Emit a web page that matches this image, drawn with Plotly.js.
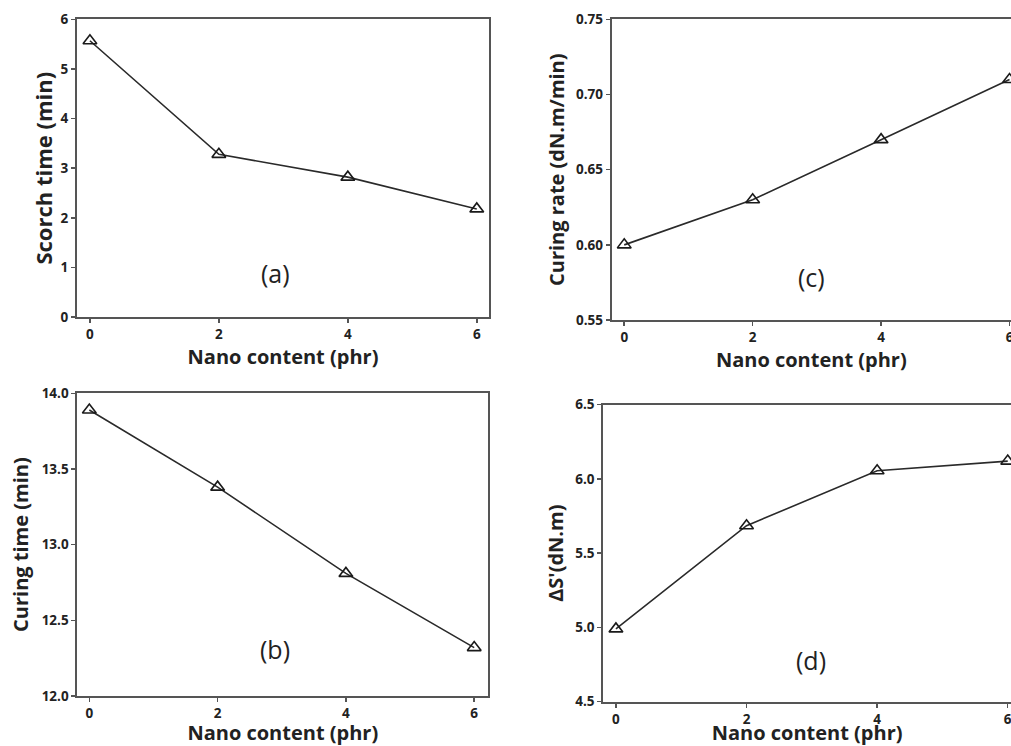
<!DOCTYPE html>
<html>
<head>
<meta charset="utf-8">
<script src="https://cdn.plot.ly/plotly-3.0.1.min.js"></script>
<style>html,body{margin:0;padding:0;background:#fff;}#chart{width:1011px;height:746px;}</style>
</head>
<body>
<div id="chart"></div>
<script>
const nano = [0, 2, 4, 6];
const scorchTime = [5.57, 3.28, 2.82, 2.18];
const curingTime = [13.89, 13.38, 12.81, 12.32];
const curingRate = [0.600, 0.630, 0.670, 0.710];
const deltaS = [4.99, 5.685, 6.055, 6.12];
const xTicks = [0, 2, 4, 6];
const xTitle = 'Nano content (phr)';
const panelLabels = ['(a)', '(b)', '(c)', '(d)'];

const lineStyle = {color: '#2a2a2a', width: 1.6};
const markerStyle = {symbol: 'triangle-up-open', size: 12, color: '#1a1a1a', line: {width: 1.6, color: '#1a1a1a'}};

function trace(y, xa, ya) {
  return {x: nano, y: y, xaxis: xa, yaxis: ya, type: 'scatter', mode: 'lines+markers',
    line: lineStyle, marker: markerStyle, showlegend: false, cliponaxis: false};
}

const tickFont = {family: 'Open Sans', size: 13.5, color: '#222', weight: 'bold'};
function tFont(size) { return {family: 'Open Sans', size: size, color: '#222', weight: 'bold'}; }

function xax(domain, range, anchor, standoff) {
  return {domain: domain, range: range, anchor: anchor, tickvals: xTicks, ticktext: xTicks.map(String),
    showgrid: false, zeroline: false, showline: true, mirror: true, linecolor: '#555', linewidth: 2,
    ticks: 'outside', ticklen: 4, tickwidth: 1.5, tickcolor: '#555', tickfont: tickFont,
    ticklabeloverflow: 'allow',
    title: {text: xTitle, font: tFont(20), standoff: standoff}, automargin: false};
}
function yax(domain, range, anchor, tickvals, ticktext, title, size, standoff, mirror) {
  return {domain: domain, range: range, anchor: anchor, tickvals: tickvals, ticktext: ticktext,
    showgrid: false, zeroline: false, showline: true, mirror: mirror, linecolor: '#555', linewidth: 2,
    ticks: 'outside', ticklen: 4, tickwidth: 1.5, tickcolor: '#555', tickfont: tickFont,
    ticklabeloverflow: 'allow',
    title: {text: title, font: tFont(size), standoff: standoff}, automargin: false};
}

const data = [
  trace(scorchTime, 'x', 'y'),
  trace(curingRate, 'x2', 'y2'),
  trace(curingTime, 'x3', 'y3'),
  trace(deltaS, 'x4', 'y4')
];

const annFont = {family: 'Open Sans', size: 25, color: '#222'};
function ann(text, x, y) {
  return {text: text, xref: 'paper', yref: 'paper', x: x, y: y, xanchor: 'center', yanchor: 'middle', showarrow: false, font: annFont};
}

const layout = {
  width: 1011, height: 746,
  margin: {l: 0, r: 0, t: 0, b: 0},
  paper_bgcolor: '#fff', plot_bgcolor: '#fff',
  font: {family: 'Open Sans', color: '#222'},
  xaxis: xax([0.0762, 0.4837], [-0.2, 6.19], 'y', 0),
  yaxis: yax([0.575, 0.974], [0, 6], 'x', [0,1,2,3,4,5,6], ['0','1','2','3','4','5','6'], 'Scorch time (min)', 22, 2, true),
  xaxis2: xax([0.605, 1.0], [-0.196, 6.023], 'y2', 0),
  yaxis2: yax([0.571, 0.974], [0.55, 0.75], 'x2', [0.55,0.60,0.65,0.70,0.75], ['0.55','0.60','0.65','0.70','0.75'], 'Curing rate (dN.m/min)', 20, 6, false),
  xaxis3: xax([0.0765, 0.483], [-0.187, 6.22], 'y3', 2),
  yaxis3: yax([0.067, 0.4728], [12, 14], 'x3', [12,12.5,13,13.5,14], ['12.0','12.5','13.0','13.5','14.0'], 'Curing time (min)', 20, 8, true),
  xaxis4: xax([0.5967, 1.0], [-0.194, 6.05], 'y4', 3),
  yaxis4: yax([0.0594, 0.4575], [4.5, 6.5], 'x4', [4.5,5,5.5,6,6.5], ['4.5','5.0','5.5','6.0','6.5'], "ΔS'(dN.m)", 20, 6, false),
  annotations: [
    ann(panelLabels[0], 275 / 1011, 1 - 273 / 746),
    ann(panelLabels[1], 275 / 1011, 1 - 649 / 746),
    ann(panelLabels[2], 811 / 1011, 1 - 277 / 746),
    ann(panelLabels[3], 811 / 1011, 1 - 660 / 746)
  ]
};

Plotly.newPlot('chart', data, layout, {displayModeBar: false, staticPlot: true});
</script>
</body>
</html>
